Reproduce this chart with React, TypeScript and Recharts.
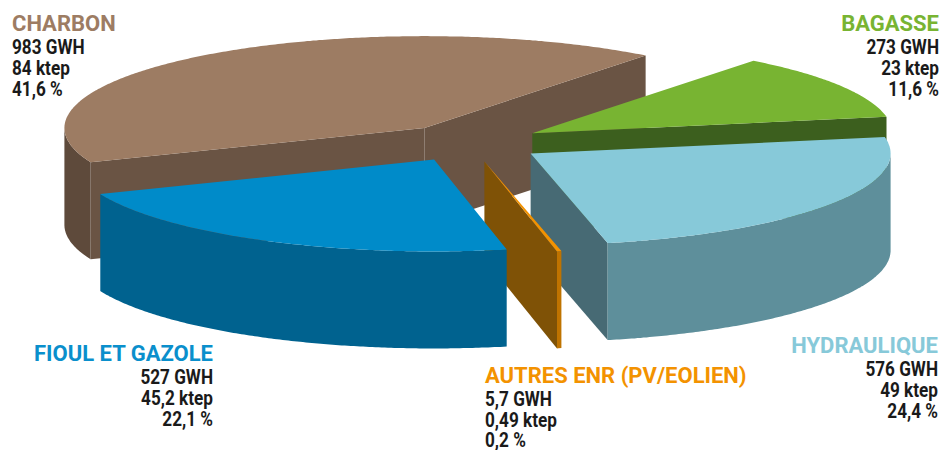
import React from 'react'
import { PieChart, Pie } from 'recharts'

// categories and values as printed on the chart
const NAMES = ['CHARBON', 'BAGASSE', 'HYDRAULIQUE', 'AUTRES ENR (PV/EOLIEN)', 'FIOUL ET GAZOLE']
const GWH = [983, 273, 576, 5.7, 527]
const KTEP = [84, 23, 49, 0.49, 45.2]
const SHARE = [41.6, 11.6, 24.4, 0.2, 22.1]

// colours: top face, outer wall, cut face, label title
const TOP = ['#9d7c63', '#78b432', '#87c9d9', '#f39200', '#008bc9']
const SIDE = ['#5e4a3b', '#3b5e1d', '#5e8f9b', '#bf7300', '#00628f']
const CUT = ['#6a5444', '#3c5f1e', '#476a74', '#7f5206', '#004e72']
const TITLE = ['#9d7c63', '#78b432', '#87c9d9', '#f39200', '#0a8fcc']

// label placement (title baseline, anchor)
const LABEL_POS = [
  { x: 12, y: 31, anchor: 'start' },
  { x: 939, y: 31, anchor: 'end' },
  { x: 938, y: 353, anchor: 'end' },
  { x: 485, y: 383, anchor: 'start' },
  { x: 213, y: 361, anchor: 'end' },
]

const data = NAMES.map((name, i) => ({ name, share: SHARE[i], idx: i }))

const TILT = 0.255
const DEPTH = 97
const PULL = 74

const fmt = (v: number) => String(v).replace('.', ',')

function idxOf(props: any) {
  if (props.payload && typeof props.payload.idx === 'number') return props.payload.idx
  if (typeof props.idx === 'number') return props.idx
  return Math.max(0, NAMES.indexOf(props.name))
}

function Slice3D(props: any) {
  const { cx, cy, outerRadius, startAngle, endAngle, midAngle } = props
  const i = idxOf(props)
  const a = Math.max(startAngle, endAngle)
  const b = Math.min(startAngle, endAngle)
  const rad = Math.PI / 180
  const ox = cx + PULL * Math.cos(midAngle * rad)
  const oy = cy - PULL * TILT * Math.sin(midAngle * rad)
  const P = (r: number, deg: number, h: number) =>
    [ox + r * Math.cos(deg * rad), oy - r * TILT * Math.sin(deg * rad) + h]
  const pts = (list: number[][]) => list.map((p) => `${p[0].toFixed(1)},${p[1].toFixed(1)}`).join(' ')

  // sample angles from a down to b, with the 180° crossings added
  const angles: number[] = []
  for (let t = a; t > b; t -= 0.5) angles.push(t)
  angles.push(b)
  for (let k = Math.ceil(b / 180); k * 180 < a; k++) angles.push(k * 180)
  angles.sort((p, q) => q - p)

  const top = [P(0, 0, 0), ...angles.map((t) => P(outerRadius, t, 0))]

  // visible parts of the outer wall (front half)
  const runs: number[][] = []
  let cur: number[] = []
  for (let j = 0; j < angles.length - 1; j++) {
    const m = (angles[j] + angles[j + 1]) / 2
    if (Math.sin(m * rad) < 0) {
      if (cur.length === 0) cur.push(angles[j])
      cur.push(angles[j + 1])
    } else if (cur.length) {
      runs.push(cur)
      cur = []
    }
  }
  if (cur.length) runs.push(cur)

  const face = (t: number) => [P(0, 0, 0), P(outerRadius, t, 0), P(outerRadius, t, DEPTH), P(0, 0, DEPTH)]

  return (
    <g>
      {Math.cos(a * rad) < 0 && <polygon points={pts(face(a))} fill={CUT[i]} />}
      {Math.cos(b * rad) > 0 && <polygon points={pts(face(b))} fill={CUT[i]} />}
      {runs.map((run, k) => (
        <polygon
          key={k}
          points={pts([
            ...run.map((t) => P(outerRadius, t, 0)),
            ...run.slice().reverse().map((t) => P(outerRadius, t, DEPTH)),
          ])}
          fill={SIDE[i]}
        />
      ))}
      <polygon points={pts(top)} fill={TOP[i]} />
    </g>
  )
}

function renderLabel(props: any) {
  const i = typeof props.index === 'number' ? props.index : idxOf(props)
  const pos = LABEL_POS[i]
  const lines = [`${fmt(GWH[i])} GWH`, `${fmt(KTEP[i])} ktep`, `${fmt(SHARE[i])} %`]
  const offs = [23, 44, 65]
  return (
    <g key={`lbl-${i}`} fontFamily="Roboto, sans-serif" fontWeight={700}>
      <text x={pos.x} y={pos.y} textAnchor={pos.anchor} fontSize={22} fill={TITLE[i]}>
        {NAMES[i]}
      </text>
      {lines.map((l, k) => (
        <text
          key={k}
          transform={`translate(${pos.x},${Math.min(pos.y + offs[k], 447)}) scale(0.88,1)`}
          x={0}
          y={0}
          textAnchor={pos.anchor}
          fontSize={19.5}
          fill="#1a1a1a"
        >
          {l}
        </text>
      ))}
    </g>
  )
}

export default function App() {
  return (
    <div style={{ position: 'absolute', left: 0, top: 0, width: 943, height: 450, background: '#fff' }}>
      <PieChart width={943} height={450} margin={{ top: 0, right: 0, bottom: 0, left: 0 }}>
        <Pie
          data={data}
          dataKey="share"
          nameKey="name"
          cx={469}
          cy={143}
          outerRadius={360}
          startAngle={202}
          endAngle={-158}
          stroke="none"
          shape={Slice3D}
          label={renderLabel}
          labelLine={false}
          isAnimationActive={false}
        />
      </PieChart>
    </div>
  )
}
